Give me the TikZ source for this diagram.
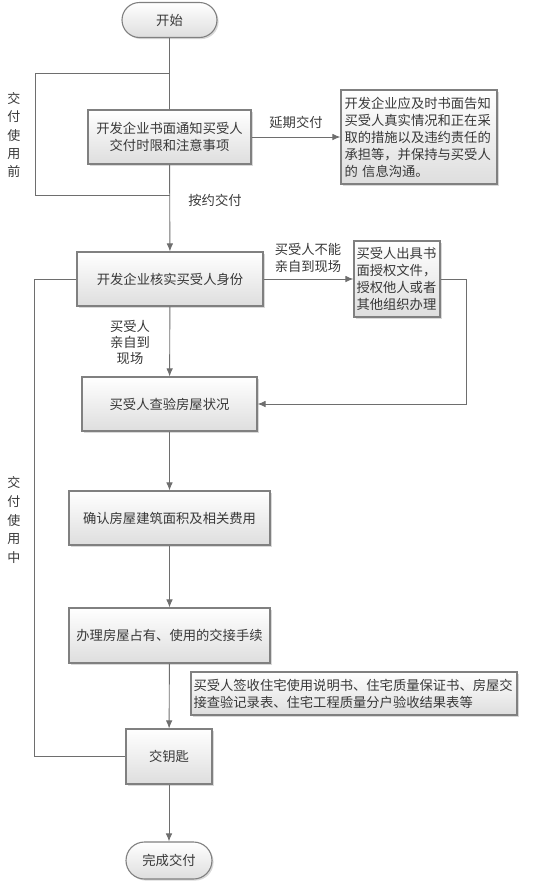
\documentclass[tikz,border=0pt]{standalone}
\usepackage{fontspec}
\setmainfont{Noto Sans CJK SC}
\usetikzlibrary{arrows.meta,shapes.misc,shadows}
\definecolor{linegray}{HTML}{6E6E6E}
\definecolor{boxgray}{HTML}{808080}
\definecolor{txtgray}{HTML}{383838}
\tikzset{
  >={Latex[length=8pt,width=6.5pt]},
  proc/.style={rectangle, draw=boxgray, line width=1.1pt, top color=white, bottom color=black!13,
    drop shadow={shadow xshift=1.6pt, shadow yshift=-1.6pt, opacity=0.3},
    text=txtgray, font=\fontsize{13.3}{17}\selectfont, inner sep=0pt, align=center},
  term/.style={proc, rounded rectangle},
  lbl/.style={text=txtgray, font=\fontsize{13.3}{17}\selectfont, align=center, inner sep=0pt},
  flow/.style={draw=linegray, line width=0.9pt},
}

\begin{document}
\begin{tikzpicture}[x=1pt,y=-1pt]
    \useasboundingbox (0,0) rectangle (551,884);
    % Anfang und Ende:
    \node[term, minimum width=95pt, minimum height=35pt] (start) at (169.5,20) {开始};
    \node[term, minimum width=86pt, minimum height=37pt] (finish) at (169,860.5) {完成交付};
    % linke Spalte:
    \node[proc, minimum width=163pt, minimum height=54pt] (notify) at (169.5,137) {开发企业书面通知买受人\\交付时限和注意事项};
    \node[proc, minimum width=186pt, minimum height=54pt] (check) at (170,279) {开发企业核实买受人身份};
    \node[proc, minimum width=175pt, minimum height=54pt] (inspect) at (169.5,404) {买受人查验房屋状况};
    \node[proc, minimum width=201pt, minimum height=54pt] (area) at (169.5,518) {确认房屋建筑面积及相关费用};
    \node[proc, minimum width=201pt, minimum height=55pt] (handover) at (169.5,635.5) {办理房屋占有、使用的交接手续};
    \node[proc, minimum width=86pt, minimum height=55pt] (keys) at (169,756.5) {交钥匙};
    % rechte Kaesten:
    \node[proc, minimum width=156pt, minimum height=94pt, text width=149pt, align=left] (delay) at (419,137)
        {开发企业应及时书面告知\\买受人真实情况和正在采\\取的措施以及违约责任的\\承担等，并保持与买受人\\的 信息沟通。};
    \node[proc, minimum width=86pt, minimum height=76pt, text width=81pt, align=left] (proxy) at (397,279)
        {买受人出具书\\面授权文件，\\授权他人或者\\其他组织办理};
    \node[proc, minimum width=326pt, minimum height=43pt, text width=321pt, align=left] (docs) at (354,693.5)
        {买受人签收住宅使用说明书、住宅质量保证书、房屋交\\接查验记录表、住宅工程质量分户验收结果表等};
    % Phasen links:
    \node[lbl, font=\fontsize{13}{18.4}\selectfont] (before) at (14,135) {交\\付\\使\\用\\前};
    \node[lbl, font=\fontsize{13}{18.8}\selectfont] (during) at (14,520) {交\\付\\使\\用\\中};
    % Beschriftungen:
    \node[lbl] (late) at (296,122) {延期交付};
    \node[lbl] (ontime) at (215,200) {按约交付};
    \node[lbl] (absent) at (308,258) {买受人不能\\亲自到现场};
    \node[lbl, font=\fontsize{13.3}{16}\selectfont] (present) at (130,342) {买受人\\亲自到\\现场};
    % Hauptlinie:
    \draw[flow] (start) -- (notify);
    \draw[flow, ->] (notify) -- (check);
    \draw[flow, ->] (check) -- (inspect);
    \draw[flow, ->] (inspect) -- (area);
    \draw[flow, ->] (area) -- (handover);
    \draw[flow, ->] (handover) -- (keys);
    \draw[flow, ->] (keys) -- (finish);
    % Abzweige:
    \draw[flow, ->] (notify) -- (delay);
    \draw[flow, ->] (check) -- (proxy);
    \draw[flow, ->] (proxy.east) -- ++(26,0) |- (inspect.east);
    % Klammern links:
    \coordinate (b1top) at (169.5,73);
    \coordinate (b1bot) at (169.5,195);
    \draw[flow] (b1top) -- (35,73) -- (35,195) -- (b1bot);
    \draw[flow] (check.west) -- ++(-42,0) |- (keys.west);
\end{tikzpicture}
\end{document}
